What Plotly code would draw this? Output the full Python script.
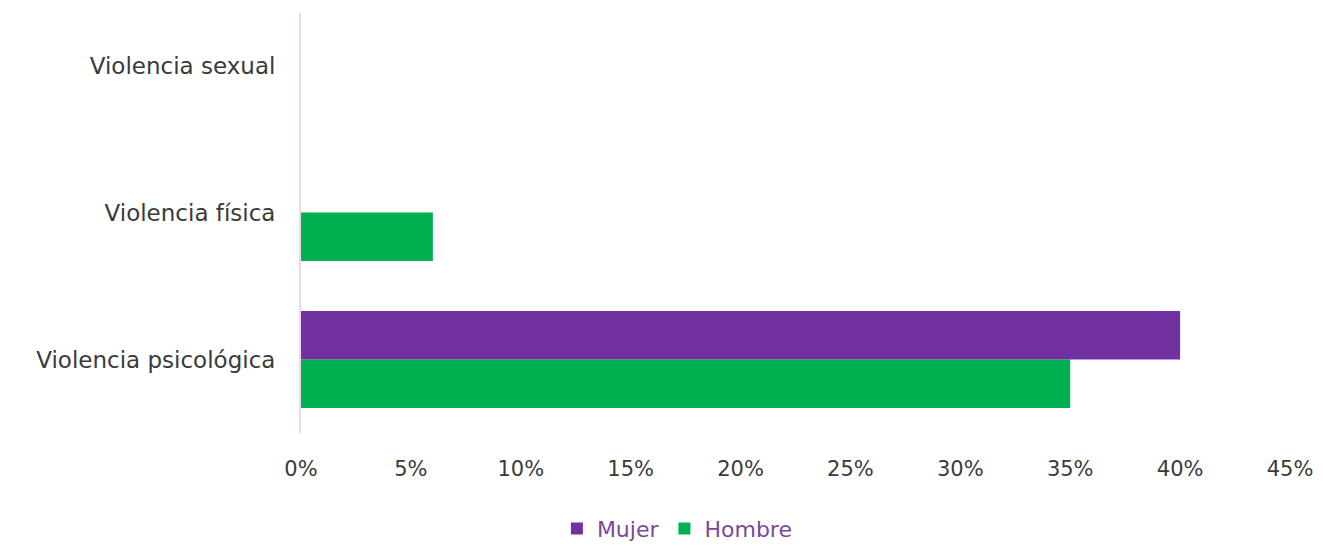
import plotly.graph_objects as go

categories = ["Violencia psicológica", "Violencia física", "Violencia sexual"]
mujer = [40, 0, 0]
hombre = [35, 6, 0]
x_ticks = [0, 5, 10, 15, 20, 25, 30, 35, 40, 45]

PURPLE = "#7030A0"
GREEN = "#00B050"
FONT = "'DejaVu Sans', sans-serif"

fig = go.Figure()
# Hombre drawn first so it sits below Mujer inside each group
fig.add_trace(go.Bar(
    y=categories, x=hombre, orientation="h", name="Hombre",
    marker=dict(color=GREEN, line=dict(width=0)), legendrank=2,
))
fig.add_trace(go.Bar(
    y=categories, x=mujer, orientation="h", name="Mujer",
    marker=dict(color=PURPLE, line=dict(width=0)), legendrank=1,
))

fig.update_layout(
    width=1323, height=553,
    margin=dict(l=301, r=33, t=13, b=120, autoexpand=False),
    paper_bgcolor="white", plot_bgcolor="white",
    barmode="group", bargap=0.34, bargroupgap=0,
    font=dict(family=FONT, size=20, color="#3A3A3A"),
    showlegend=True,
    legend=dict(
        orientation="h", x=0.512, xref="container", xanchor="center",
        y=0.006, yref="container", yanchor="bottom",
        font=dict(family=FONT, size=22, color="#7A4A96"),
        traceorder="normal",
    ),
    xaxis=dict(
        range=[0, 45], tickvals=x_ticks, ticktext=[f"{v}%" for v in x_ticks],
        showgrid=False, zeroline=False, showline=False,
        ticks="outside", ticklen=17, tickcolor="rgba(0,0,0,0)",
        tickfont=dict(family=FONT, size=21, color="#3A3A3A"),
        automargin=False, fixedrange=True,
    ),
    yaxis=dict(
        range=[-0.5, 2.357], showgrid=False, zeroline=False,
        showline=True, linecolor="#EED8F0", linewidth=2,
        ticks="outside", ticklen=19, tickcolor="rgba(0,0,0,0)",
        tickfont=dict(family=FONT, size=23, color="#3A3A3A"),
        automargin=False, fixedrange=True,
    ),
)

fig.write_html("out.html")
